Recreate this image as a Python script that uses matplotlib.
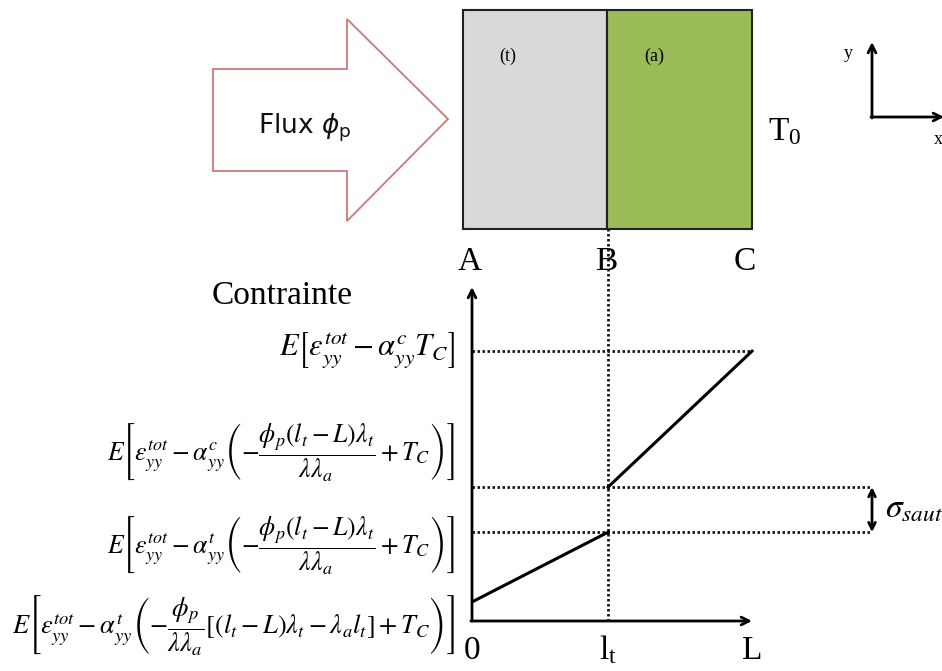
"""
Bilame (t)/(a) sous flux phi_p -- profil de contrainte le long de x.
"""

import matplotlib
matplotlib.use('Agg')
import matplotlib.pyplot as plt
from matplotlib.patches import Polygon, Rectangle

plt.rcParams.update({
    'mathtext.fontset': 'stix',
    'font.family': ['Liberation Serif', 'DejaVu Serif'],
})

# ── Data (normalised units: L = 1, y axis top = 1) ─────────────────
pos_labels = ['0', 'l_t', 'L']
pos_x = [0.0, 0.486, 1.0]            # 0, l_t, L
stress_x = [0.0, 0.486, 0.486, 1.0]
stress_y = [0.057, 0.266, 0.401, 0.808]
jump_low, jump_high = stress_y[1], stress_y[2]

formulas = [
    r'$E\left[\varepsilon_{yy}^{tot}-\alpha_{yy}^{c}T_C\right]$',
    r'$E\left[\varepsilon_{yy}^{tot}-\alpha_{yy}^{c}\left(-\dfrac{\phi_p\left(l_t-L\right)\lambda_t}{\lambda\lambda_a}+T_C\right)\right]$',
    r'$E\left[\varepsilon_{yy}^{tot}-\alpha_{yy}^{t}\left(-\dfrac{\phi_p\left(l_t-L\right)\lambda_t}{\lambda\lambda_a}+T_C\right)\right]$',
    r'$E\left[\varepsilon_{yy}^{tot}-\alpha_{yy}^{t}\left(-\dfrac{\phi_p}{\lambda\lambda_a}\left[\left(l_t-L\right)\lambda_t-\lambda_a l_t\right]+T_C\right)\right]$',
]
formula_y = [351, 452, 545, 625]     # pixel rows of the labels
formula_size = [22, 18.5, 18.5, 19]

W, H = 942, 671
fig = plt.figure(figsize=(W / 100, H / 100), dpi=100)
fig.patch.set_facecolor('white')

# ── Pixel canvas for the schematic ────────────────────────────────
ax = fig.add_axes([0, 0, 1, 1])
ax.set_xlim(0, W)
ax.set_ylim(H, 0)
ax.axis('off')

# flux arrow
arrow = Polygon([(213, 69), (347, 69), (347, 19), (448, 119),
                 (347, 221), (347, 171), (213, 171)],
                closed=True, facecolor='white', edgecolor='#c97b78', lw=1.3)
ax.add_patch(arrow)
ax.text(305, 128, r'Flux $\phi_{\rm p}$', ha='center', va='center',
        fontsize=19, family='DejaVu Sans', math_fontfamily='dejavusans',
        color='#111111')

# two layers
ax.add_patch(Rectangle((463, 10), 144, 219, facecolor='#d9d9d9',
                       edgecolor='#222222', lw=1.5))
ax.add_patch(Rectangle((607, 10), 145, 219, facecolor='#9bbb59',
                       edgecolor='#222222', lw=1.5))
ax.text(508, 56, '(t)', ha='center', va='center', fontsize=13)
ax.text(654, 56, '(a)', ha='center', va='center', fontsize=13)
ax.text(768, 132, r'T$_{\mathregular{0}}$', ha='left', va='center',
        fontsize=24)

for lab, px in zip(['A', 'B', 'C'], [470, 606, 745]):
    ax.text(px, 262, lab, ha='center', va='center', fontsize=24)

# x/y frame
ax.annotate('', xy=(872, 42), xytext=(872, 118),
            arrowprops=dict(arrowstyle='->', lw=2, color='black',
                            mutation_scale=14, shrinkA=0, shrinkB=0))
ax.annotate('', xy=(944, 117), xytext=(871, 117), annotation_clip=False,
            arrowprops=dict(arrowstyle='->', lw=2, color='black',
                            mutation_scale=14, shrinkA=0, shrinkB=0))
ax.text(848, 54, 'y', ha='center', va='center', fontsize=13)
ax.text(938, 140, 'x', ha='center', va='center', fontsize=13)

ax.text(282, 296, 'Contrainte', ha='center', va='center', fontsize=24)

for f, py, fs in zip(formulas, formula_y, formula_size):
    ax.text(455, py, f, ha='right', va='center', fontsize=fs)

# ── Stress graph ──────────────────────────────────────────────────
x0_px, y0_px, unit_x, unit_y = 472, 621, 280, 334
gx = fig.add_axes([x0_px / W, (H - y0_px) / H, (W - x0_px) / W, unit_y / H])
gx.set_xlim(0, (W - x0_px) / unit_x)
gx.set_ylim(0, 1)
gx.patch.set_visible(False)
gx.axis('off')

dot = dict(color='#1a1a1a', lw=2.0, ls=(0, (0.9, 0.9)), clip_on=False)
sig_x = (872 - x0_px) / unit_x
gx.plot([pos_x[1], pos_x[1]], [0, (y0_px - 229) / unit_y], **dot)
gx.plot([0, pos_x[2]], [stress_y[3], stress_y[3]], **dot)
gx.plot([0, sig_x], [jump_high, jump_high], **dot)
gx.plot([0, sig_x], [jump_low, jump_low], **dot)

gx.plot(stress_x[:2], stress_y[:2], color='black', lw=2.2)
gx.plot(stress_x[2:], stress_y[2:], color='black', lw=2.2)

gx.annotate('', xy=(0, 1.0), xytext=(0, 0),
            arrowprops=dict(arrowstyle='->', lw=2, color='black',
                            mutation_scale=14, shrinkA=0, shrinkB=0))
gx.annotate('', xy=(pos_x[2], 0), xytext=(-0.004, 0),
            arrowprops=dict(arrowstyle='->', lw=2, color='black',
                            mutation_scale=14, shrinkA=0, shrinkB=0))
gx.annotate('', xy=(sig_x, jump_high), xytext=(sig_x, jump_low),
            arrowprops=dict(arrowstyle='<->', lw=2, color='black',
                            mutation_scale=12, shrinkA=0, shrinkB=0))
gx.text(sig_x + 0.045, (jump_low + jump_high) / 2, r'$\sigma_{saut}$',
        ha='left', va='center', fontsize=24, clip_on=False)

for lab, xv in zip(pos_labels, pos_x):
    txt = r'l$_{\mathregular{t}}$' if lab == 'l_t' else lab
    gx.text(xv, -0.088, txt, ha='center', va='center', fontsize=24,
            clip_on=False)

fig.savefig('out.png', dpi=100, facecolor='white')
